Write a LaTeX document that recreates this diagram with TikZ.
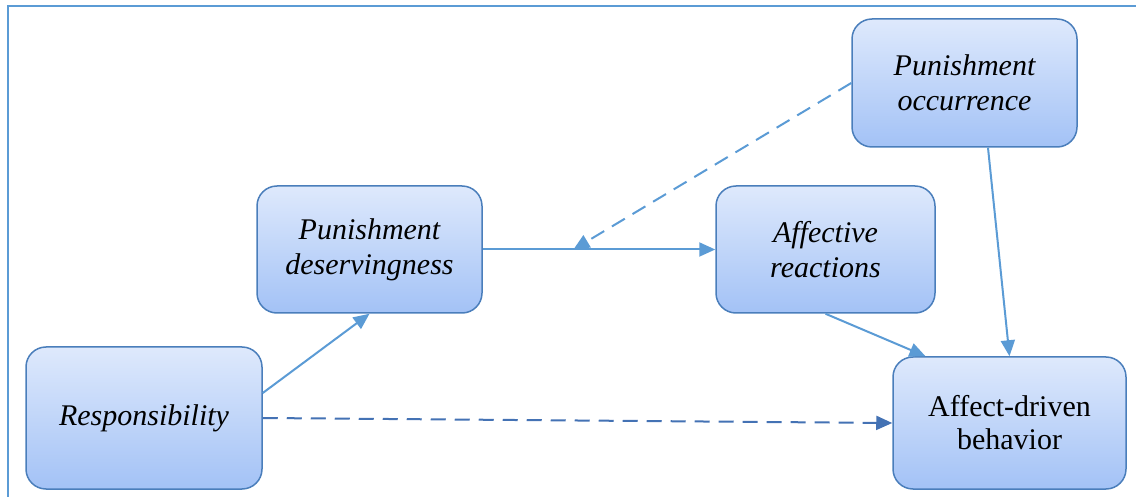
\documentclass[tikz,border=0pt]{standalone}
\usepackage{fontspec}
\setmainfont{Liberation Serif}
\usepackage{tikz}
\usetikzlibrary{arrows.meta}
\definecolor{lnblue}{RGB}{91,155,213}
\definecolor{bdblue}{RGB}{74,126,187}
\definecolor{dkblue}{RGB}{68,114,180}
\definecolor{topfill}{RGB}{222,233,252}
\definecolor{botfill}{RGB}{163,194,246}
\tikzset{
  % a variable in the model
  var/.style   = {draw=bdblue, line width=0.75pt, rounded corners=10pt,
                  top color=topfill, bottom color=botfill,
                  align=center, font=\fontsize{15}{17.5}\selectfont\itshape},
  % a plain path
  tr/.style    = {-{Triangle[length=8pt,width=7pt]}, lnblue, line width=1pt},
  % a moderating path
  mod/.style   = {tr, dash pattern=on 7.5pt off 4.5pt},
  % the direct path, a shade darker
  dir/.style   = {-{Triangle[length=8pt,width=7pt]}, dkblue, line width=1pt,
                  dash pattern=on 7.5pt off 4.5pt},
}
\begin{document}
\begin{tikzpicture}[x=0.5pt, y=-0.5pt]
  \useasboundingbox (0,0) rectangle (1136,497);
  % --- the frame, running off the page at right and bottom ---
  \draw[lnblue, line width=1pt] (7.5,510) -- (7.5,6.5) -- (1150,6.5);
  % --- five variables ---
  \node[var, minimum width=112.5pt, minimum height=64pt] (occur) at (964.5,83)
    {Punishment\\occurrence};
  \node[var, minimum width=112.5pt, minimum height=63.5pt] (deserv) at (369.5,249.5)
    {Punishment\\deservingness};
  \node[var, minimum width=109.5pt, minimum height=63.5pt] (affect) at (825.5,249.5)
    {Affective\\reactions};
  \node[var, minimum width=118pt, minimum height=71pt] (resp) at (144,418)
    {Responsibility};
  \node[var, minimum width=116.5pt, minimum height=66pt, font=\fontsize{15}{16.5}\selectfont]
    (behav) at (1009.5,423) {Affect-driven\\behavior};
  % --- and the paths between them ---
  \draw[tr] ([yshift=12.5pt]resp.east) -- (deserv.south);
  \draw[tr] (deserv) -- coordinate[pos=0.39] (mid) (affect);
  \draw[mod] (occur.west) -- (mid);
  \draw[tr] (affect.south) -- ([xshift=-42pt]behav.north);
  \draw[tr] ([xshift=11.75pt]occur.south) -- (behav.north);
  \draw[dir] (resp.east) -- (behav.west);
\end{tikzpicture}
\end{document}
